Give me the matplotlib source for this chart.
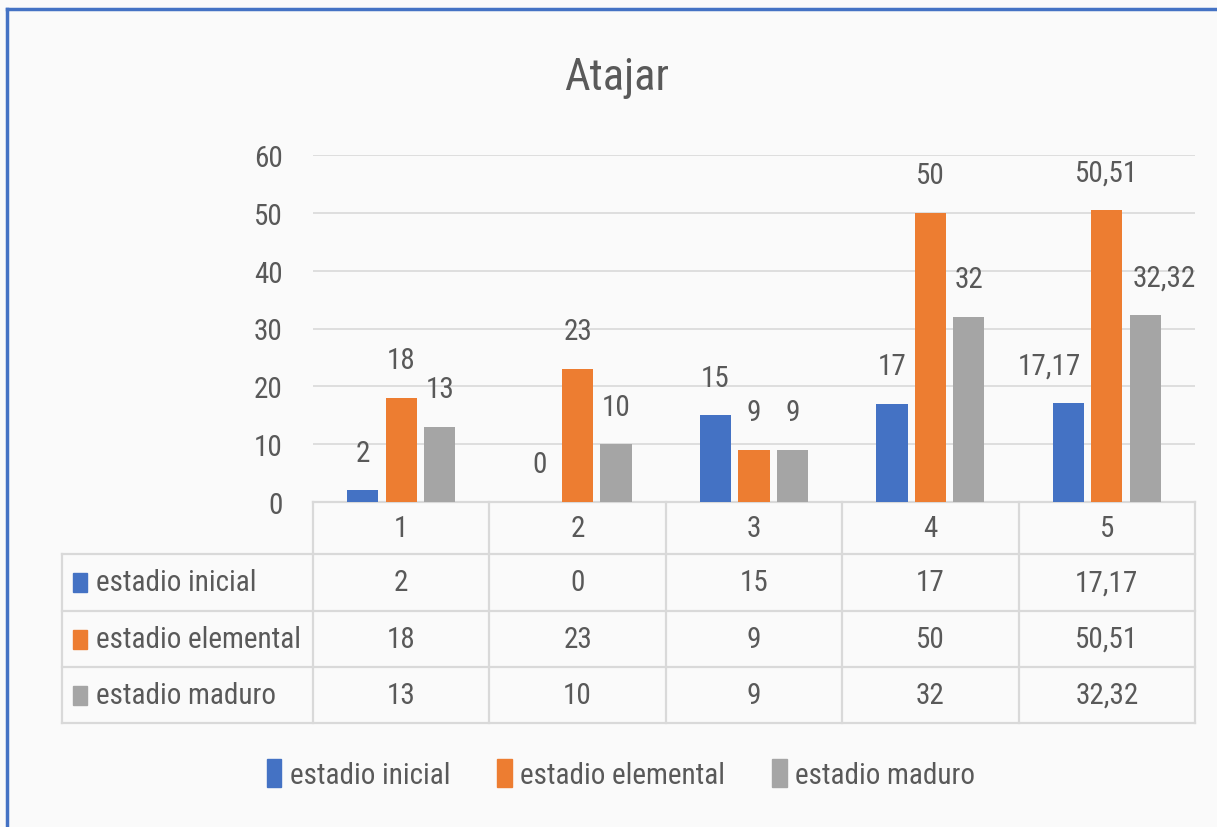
import matplotlib
matplotlib.use("Agg")
import matplotlib.pyplot as plt
from matplotlib.patches import Rectangle
from matplotlib.lines import Line2D

# data
categories = ["1", "2", "3", "4", "5"]
series_names = ["estadio inicial", "estadio elemental", "estadio maduro"]
inicial = [2, 0, 15, 17, 17.17]
elemental = [18, 23, 9, 50, 50.51]
maduro = [13, 10, 9, 32, 32.32]
yticks = [0, 10, 20, 30, 40, 50, 60]

colors = ["#4472c4", "#ed7d31", "#a5a5a5"]
txt = "#595959"
grid = "#d9d9d9"
FS = 21

plt.rcParams["font.family"] = ["Roboto Condensed", "DejaVu Sans"]

W, H = 1217, 828
fig = plt.figure(figsize=(W / 100, H / 100), dpi=100)
fig.patch.set_facecolor("#fafafa")

# plot area in pixels
x0, x1, ytop, ybot = 313, 1195, 156, 503
ax = fig.add_axes([x0 / W, (H - ybot) / H, (x1 - x0) / W, (ybot - ytop) / H])
ax.set_facecolor("none")

def fmt(v):
    return ("%g" % v).replace(".", ",")

# labels that were dragged aside in the original (points)
nudge = {(0, 4): -14, (2, 4): 14}

values = [inicial, elemental, maduro]
step, bw = 0.218, 0.177
for k, vals in enumerate(values):
    xs = [i + (k - 1) * step for i in range(len(categories))]
    bars = ax.bar(xs, vals, width=bw, color=colors[k], zorder=3)
    for i, (b, v) in enumerate(zip(bars, vals)):
        ax.annotate(fmt(v), (b.get_x() + b.get_width() / 2, v),
                    xytext=(nudge.get((k, i), 0), 27), textcoords="offset points",
                    ha="center", va="center", fontsize=FS, color=txt)

ax.set_xlim(-0.5, len(categories) - 0.5)
ax.set_ylim(0, 60)
ax.set_yticks(yticks)
ax.set_yticklabels([str(t) for t in yticks], fontsize=FS, color=txt)
ax.tick_params(axis="y", length=0, pad=22)
ax.set_xticks([])
for s in ax.spines.values():
    s.set_visible(False)
ax.grid(axis="y", color=grid, lw=1.2, zorder=0)

# data table below the axis
ph = ybot - ytop
pw = x1 - x0
def ya(py):
    return (ybot - py) / ph

row_y = [503, 555, 612, 668, 724]
left = (62 - x0) / pw
tr = ax.transAxes
lkw = dict(color=grid, lw=1.6, transform=tr, clip_on=False)
ax.add_line(Line2D([0, 1], [ya(row_y[0])] * 2, **lkw))
for py in row_y[1:]:
    ax.add_line(Line2D([left, 1], [ya(py)] * 2, **lkw))
n = len(categories)
for i in range(n + 1):
    ax.add_line(Line2D([i / n] * 2, [ya(row_y[0]), ya(row_y[-1])], **lkw))
ax.add_line(Line2D([left] * 2, [ya(row_y[1]), ya(row_y[-1])], **lkw))

for i, c in enumerate(categories):
    ax.text((i + 0.5) / n, ya((row_y[0] + row_y[1]) / 2), c, transform=tr,
            ha="center", va="center", fontsize=FS, color=txt)
for r, (name, vals) in enumerate(zip(series_names, values)):
    yc = ya((row_y[r + 1] + row_y[r + 2]) / 2)
    ax.add_patch(Rectangle(((73 - x0) / pw, yc - 9.5 / ph), 14 / pw, 19 / ph,
                           transform=tr, clip_on=False, color=colors[r]))
    ax.text((96 - x0) / pw, yc, name, transform=tr, ha="left", va="center",
            fontsize=FS, color=txt)
    for i, v in enumerate(vals):
        ax.text((i + 0.5) / n, yc, fmt(v), transform=tr, ha="center", va="center",
                fontsize=FS, color=txt)

fig.text(617 / W, 1 - 78 / H, "Atajar", ha="center", va="center", fontsize=32, color=txt)

handles = [Rectangle((0, 0), 1, 1, color=c) for c in colors]
fig.legend(handles, series_names, loc="center", bbox_to_anchor=(621 / W, 1 - 775 / H),
           ncol=3, frameon=False, fontsize=FS, handlelength=0.5, handleheight=1.1,
           handletextpad=0.3, columnspacing=1.6, labelcolor=txt)

# blue outline on top and left
bl = dict(color="#4472c4", lw=2.5, transform=fig.transFigure)
fig.add_artist(Line2D([7 / W, 7 / W], [0, 1 - 10 / H], **bl))
fig.add_artist(Line2D([7 / W, 1], [1 - 10 / H] * 2, **bl))

fig.savefig("out.png", dpi=100, facecolor=fig.get_facecolor())
